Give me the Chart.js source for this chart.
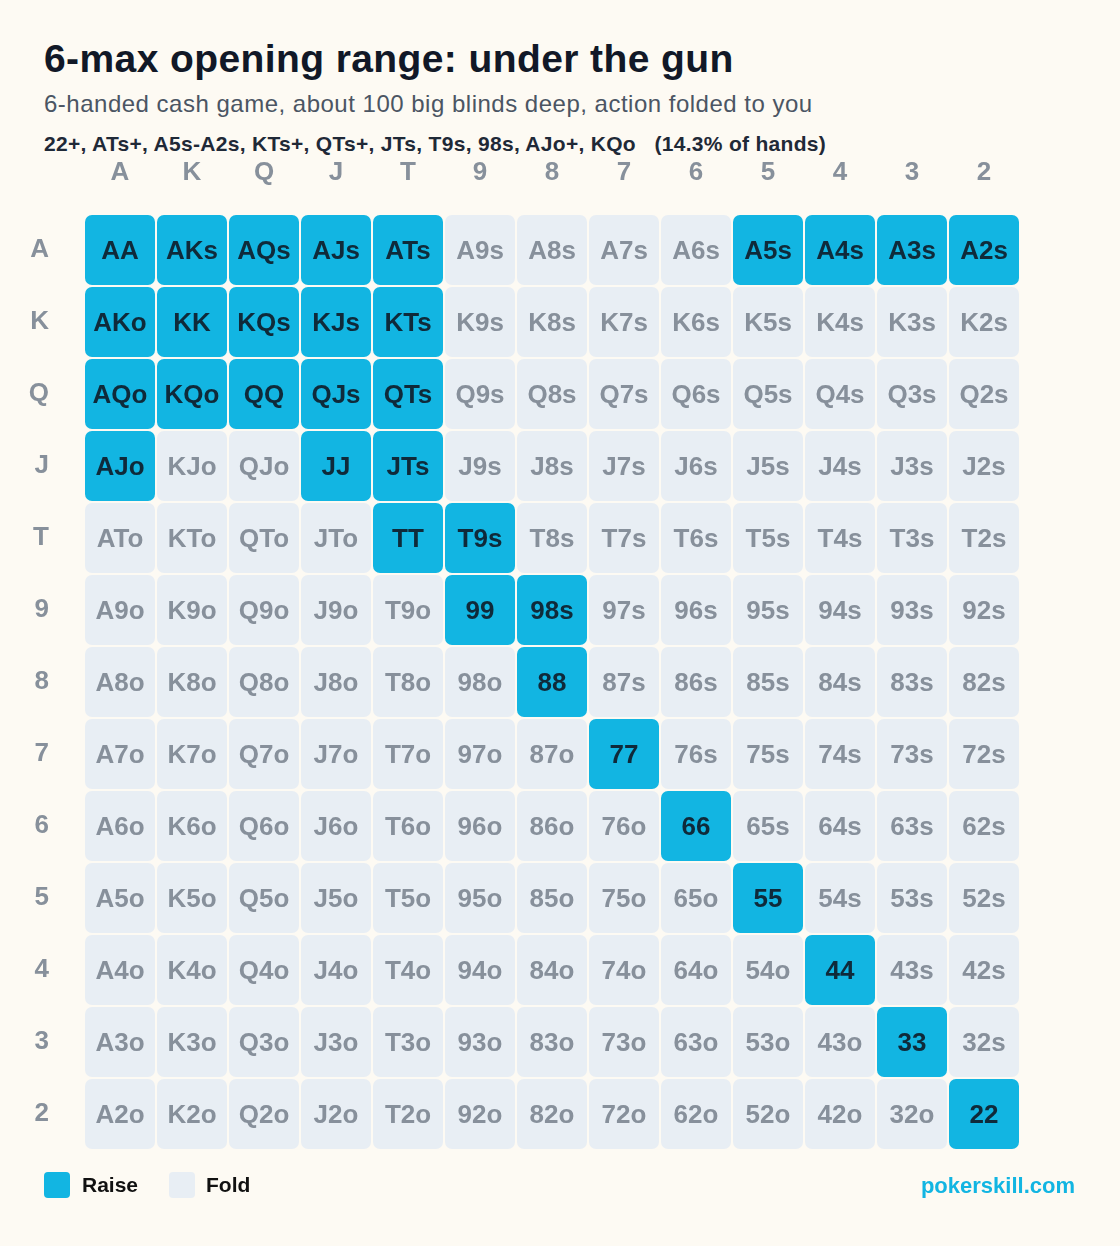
<!doctype html>
<html lang="en">
<head>
<meta charset="UTF-8">
<title>6-max opening range</title>
<style>
  body { margin:0; background:#fdfaf3; font-family:"Liberation Sans", Arial, sans-serif; }
  #wrap { position:relative; width:1120px; height:1246px; }
  canvas { position:absolute; left:0; top:0; }
  .t { position:absolute; left:44px; white-space:nowrap; }
  #title { top:37px; font-size:39px; font-weight:700; color:#111827; letter-spacing:0.4px; }
  #sub { top:90px; font-size:24px; color:#4b5563; letter-spacing:0.5px; }
  #range { top:132px; font-size:21px; font-weight:700; color:#1f2937; letter-spacing:0.3px; }
  .leg { position:absolute; top:1172px; width:26px; height:26px; border-radius:4px; }
  .legt { position:absolute; top:1173px; font-size:21px; font-weight:700; color:#111; }
  #brand { position:absolute; right:45px; top:1173px; font-size:22px; font-weight:700; color:#12b5e2; }
</style>
</head>
<body>
<div id="wrap">
  <div class="t" id="title">6-max opening range: under the gun</div>
  <div class="t" id="sub">6-handed cash game, about 100 big blinds deep, action folded to you</div>
  <div class="t" id="range">22+, ATs+, A5s-A2s, KTs+, QTs+, JTs, T9s, 98s, AJo+, KQo &nbsp;&nbsp;(14.3% of hands)</div>
  <canvas id="grid" width="1120" height="1246"></canvas>
  <div class="leg" style="left:44px;background:#12b5e2"></div>
  <div class="legt" style="left:82px">Raise</div>
  <div class="leg" style="left:169px;background:#e8eef4"></div>
  <div class="legt" style="left:206px">Fold</div>
  <div id="brand">pokerskill.com</div>
</div>
<script src="https://cdn.jsdelivr.net/npm/chart.js@4.4.1/dist/chart.umd.min.js"></script>
<script>
var ranks = ['A','K','Q','J','T','9','8','7','6','5','4','3','2'];
var raiseHands = ['AA','AKs','AQs','AJs','ATs','A5s','A4s','A3s','A2s',
  'AKo','KK','KQs','KJs','KTs','AQo','KQo','QQ','QJs','QTs',
  'AJo','JJ','JTs','TT','T9s','99','98s','88','77','66','55','44','33','22'];

// one cell per (row, col): above diagonal suited, below offsuit
var cells = [];
for (var r = 0; r < 13; r++) {
  for (var c = 0; c < 13; c++) {
    var hand;
    if (r == c) hand = ranks[r] + ranks[c];
    else if (c > r) hand = ranks[r] + ranks[c] + 's';
    else hand = ranks[c] + ranks[r] + 'o';
    cells.push({x: c, y: r, hand: hand, raise: raiseHands.indexOf(hand) >= 0});
  }
}

function rr(ctx, x, y, w, h, rad) {
  ctx.beginPath();
  ctx.moveTo(x + rad, y);
  ctx.arcTo(x + w, y, x + w, y + h, rad);
  ctx.arcTo(x + w, y + h, x, y + h, rad);
  ctx.arcTo(x, y + h, x, y, rad);
  ctx.arcTo(x, y, x + w, y, rad);
  ctx.closePath();
}

var cellPlugin = {
  id: 'cells',
  afterDatasetsDraw: function(chart) {
    var ctx = chart.ctx, xs = chart.scales.x, ys = chart.scales.y;
    ctx.save();
    ctx.textAlign = 'center';
    ctx.textBaseline = 'middle';
    ctx.font = 'bold 26px "Liberation Sans", Arial, sans-serif';
    chart.data.datasets[0].data.forEach(function(d) {
      var x0 = xs.getPixelForValue(d.x - 0.5) + 1, x1 = xs.getPixelForValue(d.x + 0.5) - 1;
      var y0 = ys.getPixelForValue(d.y - 0.5) + 1, y1 = ys.getPixelForValue(d.y + 0.5) - 1;
      rr(ctx, x0, y0, x1 - x0, y1 - y0, 7);
      ctx.fillStyle = d.raise ? '#12b5e2' : '#e8eef4';
      ctx.fill();
      ctx.fillStyle = d.raise ? '#0f2a3a' : '#87909b';
      ctx.fillText(d.hand, (x0 + x1) / 2, (y0 + y1) / 2 + 2);
    });
    ctx.restore();
  }
};

new Chart(document.getElementById('grid'), {
  type: 'scatter',
  data: { datasets: [{ data: cells, pointRadius: 0, pointHoverRadius: 0 }] },
  plugins: [cellPlugin],
  options: {
    responsive: false,
    animation: false,
    events: [],
    layout: { padding: { left: 0, top: 0, right: 100, bottom: 96 } },
    plugins: { legend: { display: false }, tooltip: { enabled: false } },
    scales: {
      x: {
        position: 'top', min: -0.5, max: 12.5,
        afterFit: function(s) { s.height = 214; },
        afterBuildTicks: function(s) { s.ticks = ranks.map(function(_, i) { return {value: i}; }); },
        grid: { display: false }, border: { display: false },
        ticks: { padding: 18, color: '#87909b', font: { size: 26, weight: 'bold', family: '"Liberation Sans", Arial' },
                 callback: function(v) { return ranks[v]; } }
      },
      y: {
        reverse: true, min: -0.5, max: 12.5,
        afterFit: function(s) { s.width = 84; },
        afterBuildTicks: function(s) { s.ticks = ranks.map(function(_, i) { return {value: i}; }); },
        grid: { display: false }, border: { display: false },
        ticks: { padding: 27, color: '#87909b', font: { size: 26, weight: 'bold', family: '"Liberation Sans", Arial' },
                 callback: function(v) { return ranks[v]; } }
      }
    }
  }
});
</script>
</body>
</html>
